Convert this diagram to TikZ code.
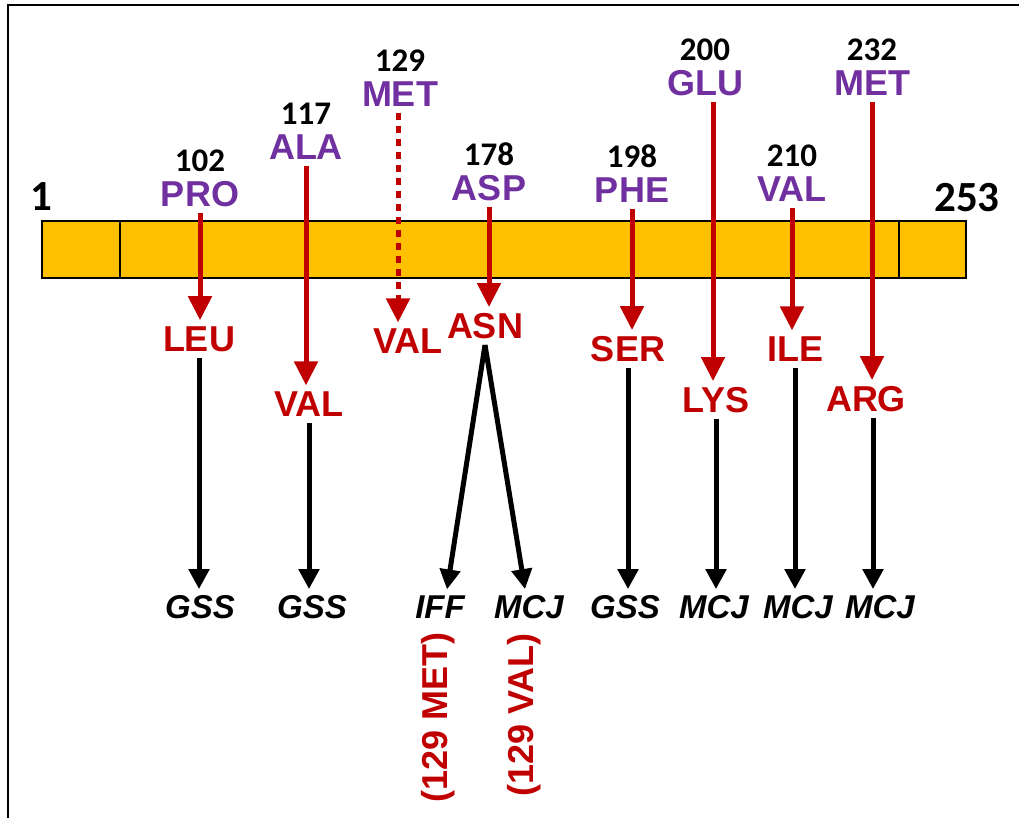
\documentclass[tikz,border=0pt]{standalone}
\usepackage{fontspec}
\setmainfont{Liberation Sans}
\newfontfamily\numfont{Carlito}
\newcommand{\posfont}{\numfont\bfseries\fontsize{33}{33}\selectfont\color{black}}
\usetikzlibrary{arrows.meta,calc}
\definecolor{barorange}{HTML}{FFC000}
\definecolor{mutred}{HTML}{C00000}
\definecolor{wtpurple}{HTML}{7030A0}
\tikzset{>={Triangle[length=20pt,width=20pt]}}
\tikzset{
  endnum/.style={inner sep=0pt,font=\numfont\bfseries\fontsize{43}{43}\selectfont},
  wt/.style={inner sep=0pt,anchor=south,align=center,text=wtpurple,font=\bfseries\fontsize{36}{35}\selectfont},
  mut/.style={inner sep=6pt,text=mutred,font=\bfseries\fontsize{36}{36}\selectfont},
  pheno/.style={inner sep=6pt,font=\bfseries\itshape\fontsize{33}{33}\selectfont},
  redarrow/.style={->,draw=mutred,line width=5pt,shorten <=6pt,>={Triangle[length=24pt,width=23pt]}},
  dotarrow/.style={redarrow,dash pattern=on 7pt off 6pt},
  blackarrow/.style={->,draw=black,line width=5pt}
}

\begin{document}
\begin{tikzpicture}[x=1pt,y=-1pt]
\useasboundingbox (0,0) rectangle (1019,818);

% frame and protein bar
\draw[line width=2pt] (8,818) -- (8,5) -- (1019,5);
\draw[line width=2pt,fill=barorange] (42,221) rectangle (966,278);
\draw[line width=2pt] (120,221) -- (120,278);
\draw[line width=2pt] (899,221) -- (899,278);

\node [endnum] (first) at (41,197) {1};
\node [endnum] (last) at (967,198) {253};

% wild type residues with their positions
\node [wt] (pro) at (200,207) {{\posfont 102}\\PRO};
\node [wt] (ala) at (306,160) {{\posfont 117}\\ALA};
\node [wt] (met) at (400,107) {{\posfont 129}\\MET};
\node [wt] (asp) at (489,201) {{\posfont 178}\\ASP};
\node [wt] (phe) at (632,203) {{\posfont 198}\\PHE};
\node [wt] (glu) at (705,96) {{\posfont 200}\\GLU};
\node [wt] (valw) at (792,202) {{\posfont 210}\\VAL};
\node [wt] (metb) at (872,96) {{\posfont 232}\\MET};

% mutant residues
\node [mut] (leu) at (199,339) {LEU};
\node [mut] (vala) at (309,404) {VAL};
\node [mut] (valb) at (408,341) {VAL};
\node [mut] (asn) at (485,326) {ASN};
\node [mut] (ser) at (628,349) {SER};
\node [mut] (lys) at (716,400) {LYS};
\node [mut] (ile) at (795,349) {ILE};
\node [mut] (arg) at (866,399) {ARG};

% phenotypes
\node [pheno] (gssa) at (200,607) {GSS};
\node [pheno] (gssb) at (312,607) {GSS};
\node [pheno] (iff) at (440,607) {IFF};
\node [pheno] (mcja) at (529,607) {MCJ};
\node [pheno] (gssc) at (625,607) {GSS};
\node [pheno] (mcjb) at (714,607) {MCJ};
\node [pheno] (mcjc) at (798,607) {MCJ};
\node [pheno] (mcjd) at (880,607) {MCJ};

\node [mut,inner sep=0pt,rotate=90] (metnote) at (438,717) {(129 MET)};
\node [mut,inner sep=0pt,rotate=90] (valnote) at (524,715) {(129 VAL)};

% substitutions
\draw[redarrow] (pro.south) -- (pro.south |- leu.north);
\draw[redarrow] (ala.south) -- (ala.south |- vala.north);
\draw[dotarrow] ([xshift=-2pt]met.south) -- ([xshift=-2pt]met.south |- valb.north);
\draw[redarrow] (asp.south) -- (asp.south |- asn.north);
\draw[redarrow] (phe.south) -- (phe.south |- ser.north);
\draw[redarrow] ([xshift=-3pt]lys.north |- glu.south) -- ([xshift=-3pt]lys.north);
\draw[redarrow] (valw.south) -- (valw.south |- ile.north);
\draw[redarrow] (metb.south) -- (metb.south |- arg.north);

% phenotypes
\draw[blackarrow] (leu.south) -- (leu.south |- gssa.north);
\draw[blackarrow] (vala.south) -- (vala.south |- gssb.north);
\draw[blackarrow] (asn.south) -- ($(iff.north)+(7,0)$);
\draw[blackarrow] (asn.south) -- ($(mcja.north)+(-4,0)$);
\draw[blackarrow] (ser.south) -- (ser.south |- gssc.north);
\draw[blackarrow] (lys.south) -- (lys.south |- mcjb.north);
\draw[blackarrow] (ile.south) -- (ile.south |- mcjc.north);
\draw[blackarrow] ([xshift=-7pt]mcjd.north |- arg.south) -- ([xshift=-7pt]mcjd.north);

\end{tikzpicture}
\end{document}
